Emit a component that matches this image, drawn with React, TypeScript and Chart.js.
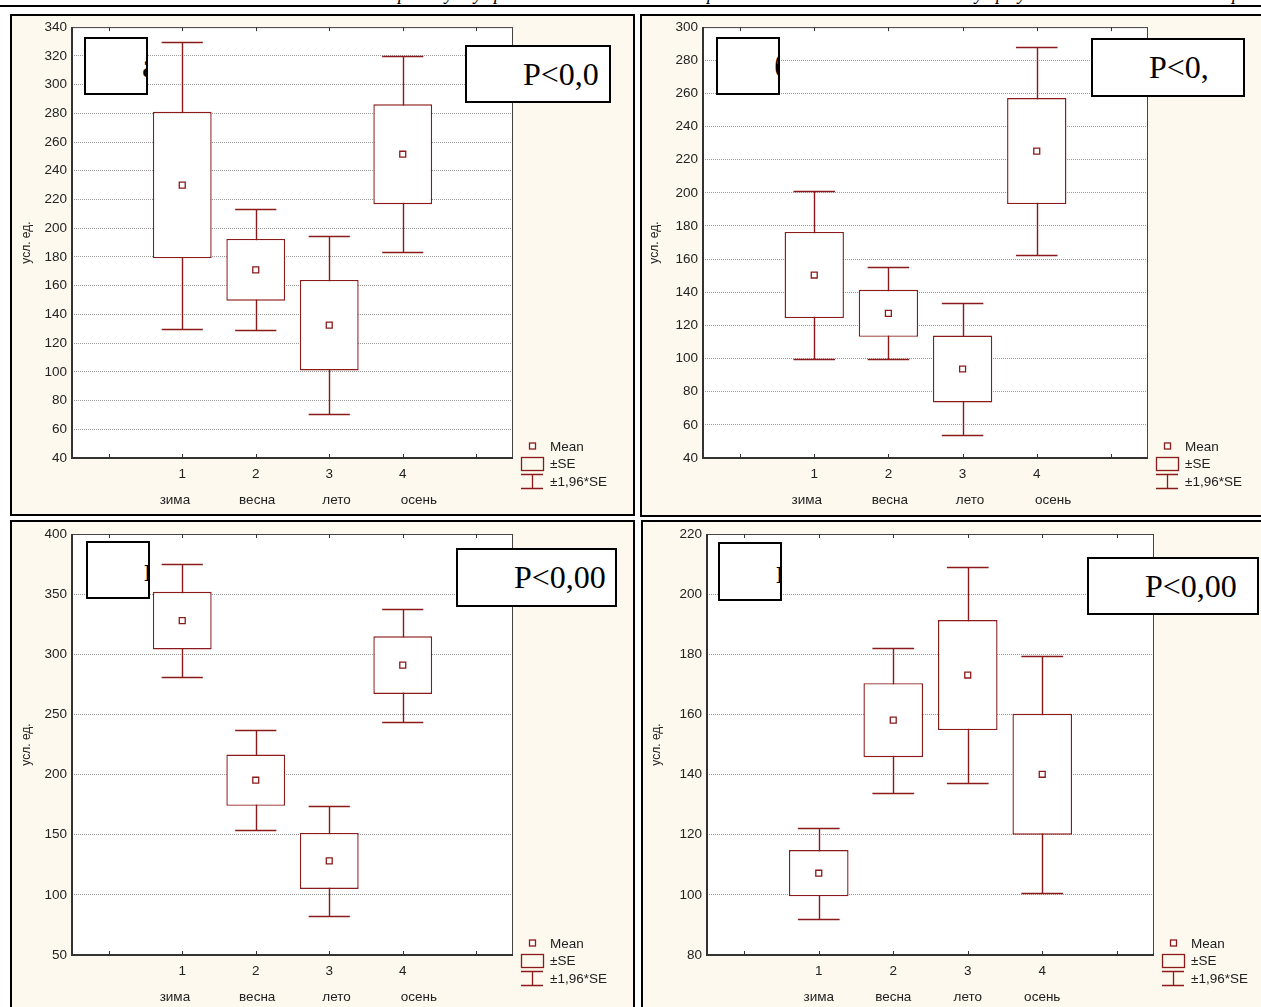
import React, { useEffect, useRef } from 'react';
import { Chart, registerables } from 'chart.js';

Chart.register(...registerables);

// ---------------- data ----------------
const categoryNumbers = ['1', '2', '3', '4'];
const categoryNames = ['зима', 'весна', 'лето', 'осень'];
const categoryX = [1, 2, 3, 4];
const xTickValues = [0, 1, 2, 3, 4, 5];

const meanA = [230, 171, 132.5, 251.5];
const seA = [51, 21.5, 31.5, 34.8];
const yTicksA = [40, 60, 80, 100, 120, 140, 160, 180, 200, 220, 240, 260, 280, 300, 320, 340];

const meanB = [150.4, 127.3, 93.7, 225.2];
const seB = [26, 14.2, 20.2, 32];
const yTicksB = [40, 60, 80, 100, 120, 140, 160, 180, 200, 220, 240, 260, 280, 300];

const meanC = [328, 195.3, 128.2, 291];
const seC = [24, 21.3, 23.3, 24];
const yTicksC = [50, 100, 150, 200, 250, 300, 350, 400];

const meanD = [107.2, 158.1, 173.1, 140.1];
const seD = [7.7, 12.3, 18.3, 20.1];
const yTicksD = [80, 100, 120, 140, 160, 180, 200, 220];

const panelLetters = ['а)', 'б)', 'в)', 'г)'];
const pValueTexts = ['P<0,0', 'P<0,', 'P<0,00', 'P<0,00'];
const legendLabels = ['Mean', '±SE', '±1,96*SE'];
const yAxisTitle = 'усл. ед.';
const ciFactor = 1.96;
const headerGlyphs = ['р', 'у', 'у', 'р', 'р', 'у', 'р', 'у', 'р'];

// ---------------- style / layout ----------------
const RED = '#8b1a1a';
const CREAM = '#fdf9ee';
const TEXT = '#222222';
const SANS = "'Liberation Sans', Arial, sans-serif";
const SERIF = "'Liberation Serif', 'Times New Roman', serif";
const CAP_HALF = 0.28;
const headerGlyphX = [398, 445, 474, 494, 707, 975, 996, 1018, 1232];
const shiftedNamePos = [0.9, 2.02, 3.1, 4.22];
const centredNamePos = [1, 2, 3, 4];

type Rect = { l: number; t: number; w: number; h: number };
type PanelCfg = {
  mean: number[];
  se: number[];
  yTicks: number[];
  frame: Rect;
  plot: { l: number; t: number; r: number; b: number };
  titleX: number;
  letterBox: Rect;
  pBox: Rect;
  letter: string;
  pText: string;
  namePos: number[];
};

const panels: PanelCfg[] = [
  {
    mean: meanA, se: seA, yTicks: yTicksA,
    frame: { l: 10, t: 14, w: 625, h: 502 },
    plot: { l: 72, t: 27, r: 513, b: 458 },
    titleX: 27,
    letterBox: { l: 84, t: 37, w: 64, h: 58 },
    pBox: { l: 465, t: 45, w: 146, h: 58 },
    letter: panelLetters[0], pText: pValueTexts[0],
    namePos: shiftedNamePos,
  },
  {
    mean: meanB, se: seB, yTicks: yTicksB,
    frame: { l: 640, t: 14, w: 630, h: 503 },
    plot: { l: 703, t: 27, r: 1148, b: 458 },
    titleX: 655,
    letterBox: { l: 716, t: 37, w: 64, h: 58 },
    pBox: { l: 1091, t: 38, w: 154, h: 59 },
    letter: panelLetters[1], pText: pValueTexts[1],
    namePos: shiftedNamePos,
  },
  {
    mean: meanC, se: seC, yTicks: yTicksC,
    frame: { l: 10, t: 520, w: 625, h: 500 },
    plot: { l: 72, t: 534, r: 513, b: 955 },
    titleX: 27,
    letterBox: { l: 86, t: 541, w: 64, h: 58 },
    pBox: { l: 456, t: 548, w: 161, h: 59 },
    letter: panelLetters[2], pText: pValueTexts[2],
    namePos: shiftedNamePos,
  },
  {
    mean: meanD, se: seD, yTicks: yTicksD,
    frame: { l: 641, t: 520, w: 630, h: 500 },
    plot: { l: 707, t: 534, r: 1154, b: 955 },
    titleX: 657,
    letterBox: { l: 718, t: 542, w: 64, h: 59 },
    pBox: { l: 1087, t: 557, w: 172, h: 58 },
    letter: panelLetters[3], pText: pValueTexts[3],
    namePos: centredNamePos,
  },
];

function makeConfig(p: PanelCfg): any {
  const { mean, se, yTicks, frame, plot, namePos } = p;
  const padTop = plot.t - frame.t;
  const padRight = frame.l + frame.w - plot.r;
  const yAxisW = plot.l - frame.l;
  const xAxisH = frame.t + frame.h - plot.b;
  const titleLine = 12 * 1.2;
  const titlePad = p.titleX - frame.l - titleLine / 2;

  const boxData = categoryX.map((x, i) => ({ x, y: [mean[i] - se[i], mean[i] + se[i]] }));
  const meanData = categoryX.map((x, i) => ({ x, y: mean[i] }));

  const decor = {
    id: 'statDecor',
    beforeDraw(chart: any) {
      const { ctx, chartArea: ca } = chart;
      ctx.save();
      ctx.fillStyle = '#ffffff';
      ctx.fillRect(ca.left, ca.top, ca.right - ca.left, ca.bottom - ca.top);
      ctx.restore();
    },
    beforeDatasetsDraw(chart: any) {
      const { ctx } = chart;
      const xs = chart.scales.x;
      const ys = chart.scales.y;
      ctx.save();
      ctx.strokeStyle = RED;
      ctx.lineWidth = 1.4;
      categoryX.forEach((xv, i) => {
        const px = Math.round(xs.getPixelForValue(xv)) + 0.5;
        const top = Math.round(ys.getPixelForValue(mean[i] + ciFactor * se[i])) + 0.5;
        const bot = Math.round(ys.getPixelForValue(mean[i] - ciFactor * se[i])) + 0.5;
        const cl = xs.getPixelForValue(xv - CAP_HALF);
        const cr = xs.getPixelForValue(xv + CAP_HALF);
        ctx.beginPath();
        ctx.moveTo(px, top);
        ctx.lineTo(px, bot);
        ctx.moveTo(cl, top);
        ctx.lineTo(cr, top);
        ctx.moveTo(cl, bot);
        ctx.lineTo(cr, bot);
        ctx.stroke();
      });
      ctx.restore();
    },
    afterDraw(chart: any) {
      const { ctx, chartArea: ca } = chart;
      const xs = chart.scales.x;
      ctx.save();
      // frame
      ctx.strokeStyle = '#444';
      ctx.lineWidth = 1;
      ctx.strokeRect(ca.left + 0.5, ca.top + 0.5, ca.right - ca.left - 1, ca.bottom - ca.top - 1);
      ctx.strokeStyle = '#333';
      ctx.lineWidth = 2;
      ctx.beginPath();
      ctx.moveTo(ca.left, ca.top);
      ctx.lineTo(ca.left, ca.bottom);
      ctx.lineTo(ca.right, ca.bottom);
      ctx.stroke();
      // tick marks (inside, top & bottom)
      ctx.lineWidth = 1;
      ctx.beginPath();
      xTickValues.forEach((v) => {
        const px = Math.round(xs.getPixelForValue(v)) + 0.5;
        ctx.moveTo(px, ca.bottom);
        ctx.lineTo(px, ca.bottom - 4);
        ctx.moveTo(px, ca.top);
        ctx.lineTo(px, ca.top + 4);
      });
      ctx.stroke();

      // category names (second label row)
      ctx.fillStyle = TEXT;
      ctx.font = `13.5px ${SANS}`;
      ctx.textAlign = 'center';
      ctx.textBaseline = 'middle';
      categoryNames.forEach((n, i) => {
        ctx.fillText(n, xs.getPixelForValue(namePos[i]), ca.bottom + 42);
      });

      // legend
      const sx = ca.right + 8;
      const ex = ca.right + 30;
      const cx = Math.round((sx + ex) / 2) + 0.5;
      const tx = ca.right + 37;
      const yMean = ca.bottom - 12;
      ctx.strokeStyle = RED;
      ctx.lineWidth = 1.3;
      ctx.fillStyle = '#fff';
      ctx.fillRect(cx - 3, yMean - 3, 6, 6);
      ctx.strokeRect(cx - 3, yMean - 3, 6, 6);
      ctx.strokeRect(sx + 0.5, ca.bottom - 0.5, ex - sx, 13);
      ctx.beginPath();
      ctx.moveTo(sx, ca.bottom + 16.5);
      ctx.lineTo(ex, ca.bottom + 16.5);
      ctx.moveTo(cx, ca.bottom + 16.5);
      ctx.lineTo(cx, ca.bottom + 30.5);
      ctx.moveTo(sx, ca.bottom + 30.5);
      ctx.lineTo(ex, ca.bottom + 30.5);
      ctx.stroke();
      ctx.fillStyle = TEXT;
      ctx.font = `13.5px ${SANS}`;
      ctx.textAlign = 'left';
      ctx.textBaseline = 'middle';
      ctx.fillText(legendLabels[0], tx, ca.bottom - 11);
      ctx.fillText(legendLabels[1], tx, ca.bottom + 6);
      ctx.fillText(legendLabels[2], tx, ca.bottom + 24);
      ctx.restore();
    },
  };

  return {
    type: 'bar',
    data: {
      datasets: [
        {
          type: 'bar',
          label: legendLabels[1],
          data: boxData,
          backgroundColor: '#ffffff',
          borderColor: RED,
          borderWidth: 1.4,
          borderSkipped: false,
          barPercentage: 1,
          categoryPercentage: 0.8,
          order: 2,
        },
        {
          type: 'scatter',
          label: legendLabels[0],
          data: meanData,
          pointStyle: 'rect',
          pointRadius: 4.2,
          pointBorderWidth: 1.3,
          borderColor: RED,
          backgroundColor: '#ffffff',
          order: 1,
        },
      ],
    },
    options: {
      responsive: false,
      animation: false,
      events: [],
      layout: { padding: { top: padTop, right: padRight, left: 0, bottom: 0 } },
      plugins: { legend: { display: false }, tooltip: { enabled: false } },
      scales: {
        x: {
          type: 'linear',
          min: -0.5,
          max: 5.5,
          offset: false,
          afterBuildTicks: (s: any) => {
            s.ticks = xTickValues.map((v) => ({ value: v }));
          },
          afterFit: (s: any) => {
            s.height = xAxisH;
          },
          ticks: {
            autoSkip: false,
            maxRotation: 0,
            minRotation: 0,
            padding: 3,
            color: TEXT,
            font: { family: SANS, size: 13.5, lineHeight: 2 },
            callback: (v: number) => {
              const idx = categoryX.indexOf(v);
              return idx >= 0 ? categoryNumbers[idx] : '';
            },
          },
          grid: { display: false, drawTicks: false, offset: false },
          border: { display: false },
        },
        y: {
          type: 'linear',
          min: yTicks[0],
          max: yTicks[yTicks.length - 1],
          afterBuildTicks: (s: any) => {
            s.ticks = yTicks.map((v) => ({ value: v }));
          },
          afterFit: (s: any) => {
            s.width = yAxisW;
          },
          ticks: {
            autoSkip: false,
            padding: 5,
            color: TEXT,
            font: { family: SANS, size: 13.5 },
          },
          grid: { color: '#9a9a9a', lineWidth: 1, drawTicks: false },
          border: { display: false, dash: [1, 1] },
          title: {
            display: true,
            text: yAxisTitle,
            color: TEXT,
            font: { family: SANS, size: 12, lineHeight: 1.2 },
            padding: { top: titlePad, bottom: 0 },
          },
        },
      },
    },
    plugins: [decor],
  };
}

function OverlayBox({ r, text, size }: { r: Rect; text: string; size: number }) {
  return (
    <div
      style={{
        position: 'absolute',
        left: r.l,
        top: r.t,
        width: r.w,
        height: r.h,
        boxSizing: 'border-box',
        border: '2px solid #000',
        background: '#fff',
        overflow: 'hidden',
        whiteSpace: 'nowrap',
        fontFamily: SERIF,
        fontSize: size,
        color: '#000',
        lineHeight: `${r.h - 4}px`,
        paddingLeft: 56,
      }}
    >
      {text}
    </div>
  );
}

function Panel({ p }: { p: PanelCfg }) {
  const ref = useRef<HTMLCanvasElement | null>(null);
  useEffect(() => {
    if (!ref.current) return;
    const chart = new Chart(ref.current, makeConfig(p));
    return () => chart.destroy();
  }, [p]);
  const f = p.frame;
  return (
    <>
      <div
        style={{
          position: 'absolute',
          left: f.l,
          top: f.t,
          width: f.w,
          height: f.h,
          boxSizing: 'border-box',
          border: '2px solid #000',
          background: CREAM,
        }}
      />
      <canvas
        ref={ref}
        width={f.w}
        height={f.h}
        style={{ position: 'absolute', left: f.l, top: f.t, width: f.w, height: f.h }}
      />
      <OverlayBox r={p.letterBox} text={p.letter} size={34} />
      <OverlayBox r={p.pBox} text={p.pText} size={32} />
    </>
  );
}

export default function App() {
  return (
    <div
      style={{
        position: 'absolute',
        left: 0,
        top: 0,
        width: 1261,
        height: 1007,
        overflow: 'hidden',
        background: '#fff',
      }}
    >
      {headerGlyphs.map((g, i) => (
        <span
          key={i}
          style={{
            position: 'absolute',
            left: headerGlyphX[i],
            top: -14,
            fontFamily: SERIF,
            fontStyle: 'italic',
            fontSize: 18,
            lineHeight: '16px',
            color: '#000',
          }}
        >
          {g}
        </span>
      ))}
      <div style={{ position: 'absolute', left: 0, top: 5, width: 1261, height: 2, background: '#000' }} />
      {panels.map((p, i) => (
        <Panel key={i} p={p} />
      ))}
    </div>
  );
}
